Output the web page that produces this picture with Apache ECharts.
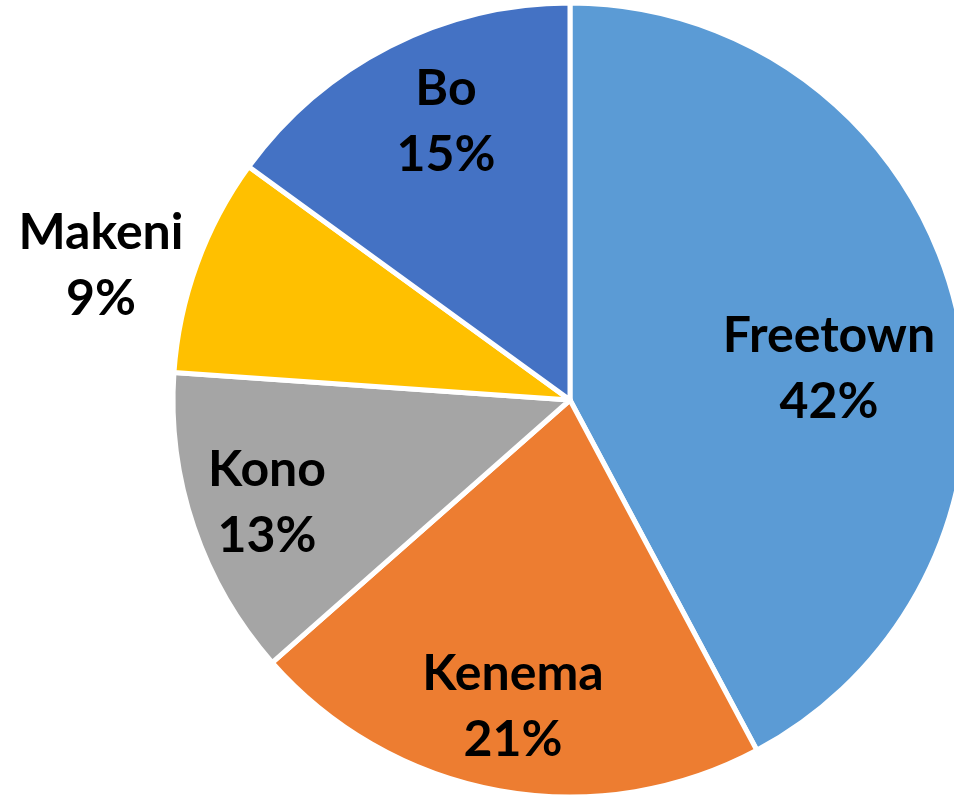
<!DOCTYPE html>
<html>
<head>
<meta charset="utf-8">
<script src="https://cdn.jsdelivr.net/npm/echarts@6/dist/echarts.min.js"></script>
<style>
  html, body { margin: 0; padding: 0; background: #fff; }
  #chart { width: 954px; height: 796px; }
</style>
</head>
<body>
<div id="chart"></div>
<script>
const cities = ['Freetown', 'Kenema', 'Kono', 'Makeni', 'Bo'];
// labels round these to 42/21/13/9/15
const shares = [42.2, 21.3, 12.6, 8.9, 15.0];
const colors = ['#5B9BD5', '#ED7D31', '#A5A5A5', '#FFC000', '#4472C4'];

// where Excel placed each data label (centre of the two-line block)
const labelSpots = [[829, 369], [513, 707], [267, 503], [101, 266], [446, 122]];

function createPie(elId) {
    const chartDom = document.getElementById(elId);
    const myChart = echarts.init(chartDom);

    const data = cities.map(function (name, i) {
        return { name: name, value: shares[i], itemStyle: { color: colors[i] } };
    });

    const option = {
        animation: false,
        series: [
            {
                type: 'pie',
                center: [570, 400],
                radius: 397,
                startAngle: 90,
                clockwise: true,
                percentPrecision: 0,
                data: data,
                itemStyle: {
                    borderColor: '#fff',
                    borderWidth: 5
                },
                label: {
                    show: true,
                    position: 'inside',
                    formatter: '{b}\n{d}%',
                    color: '#000',
                    fontFamily: 'Lato',
                    fontWeight: 'bold',
                    fontSize: 50,
                    lineHeight: 66,
                    align: 'center'
                },
                labelLine: { show: false },
                labelLayout: function (params) {
                    const p = labelSpots[params.dataIndex];
                    return { x: p[0], y: p[1], align: 'center', verticalAlign: 'middle' };
                }
            }
        ]
    };
    myChart.setOption(option);
}

createPie('chart');
</script>
</body>
</html>
